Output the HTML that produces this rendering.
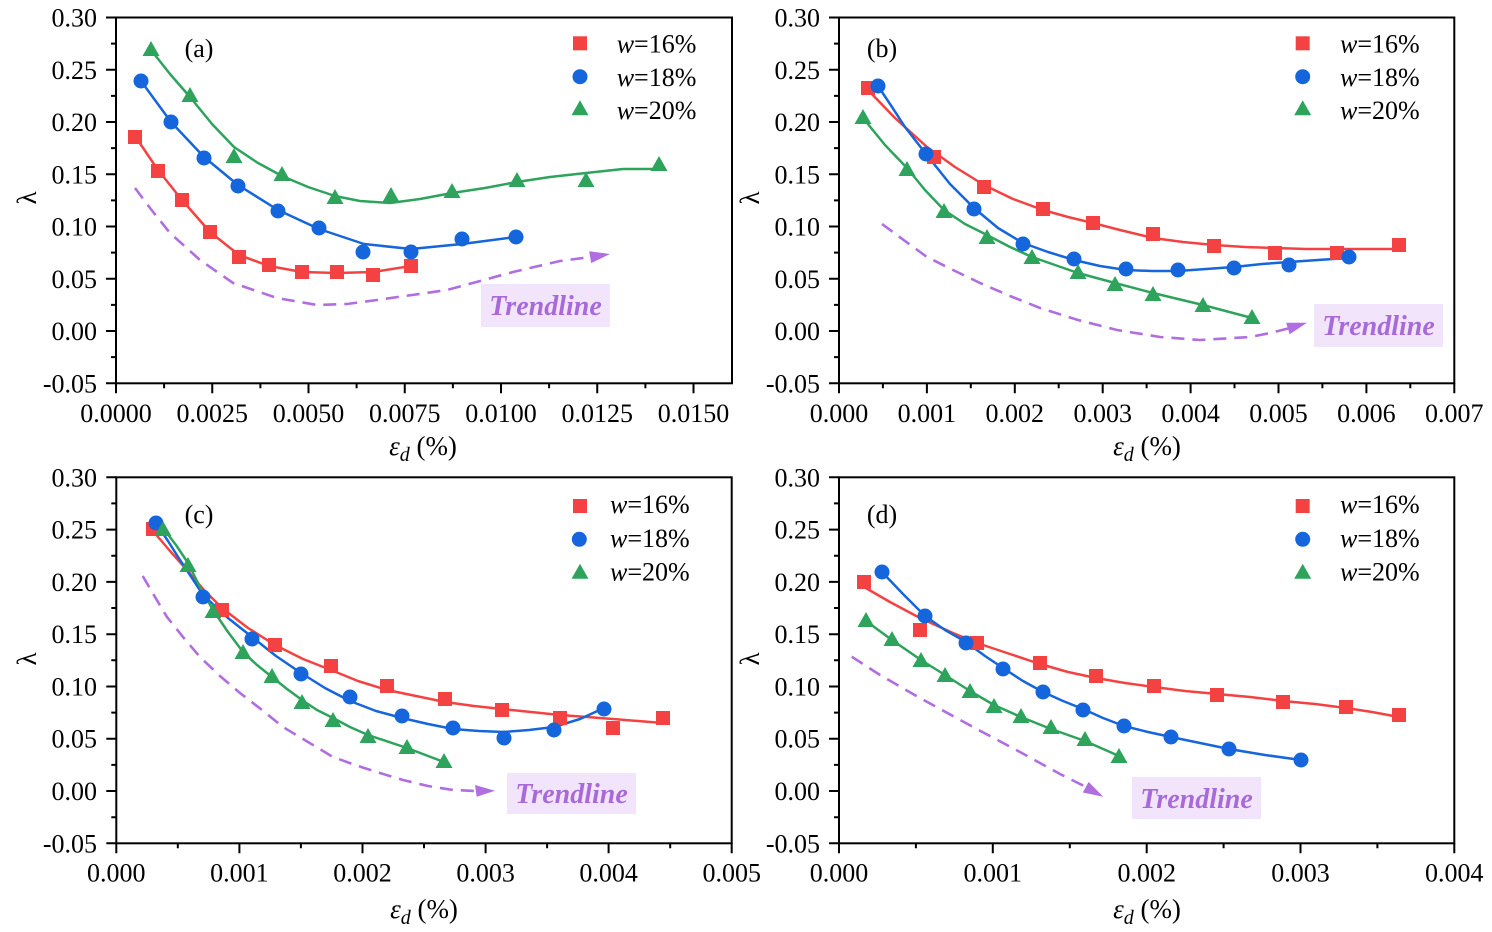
<!DOCTYPE html>
<html><head><meta charset="utf-8"><style>
html,body{margin:0;padding:0;background:#fff;}
svg{display:block;}
text{font-family:"Liberation Serif","Times New Roman",serif;fill:#000;}
</style></head><body>
<svg width="1492" height="932" viewBox="0 0 1492 932" xmlns="http://www.w3.org/2000/svg">
<defs>
<rect id="sq" x="-7" y="-7" width="14" height="14"/>
<circle id="ci" cx="0" cy="0" r="7.5"/>
<polygon id="tr" points="0,-9 8.5,6 -8.5,6"/>
</defs>
<g fill="none" stroke="#000" stroke-width="2">
<rect x="116" y="17.5" width="616" height="365.8"/>
<rect x="839" y="17.5" width="615.3" height="365.8"/>
<rect x="116.3" y="477.3" width="615.4" height="366"/>
<rect x="839" y="477.3" width="615.3" height="366"/>
<!-- y ticks a -->
<path d="M116,17.5h-10M116,69.8h-10M116,122h-10M116,174.3h-10M116,226.5h-10M116,278.8h-10M116,331h-10M116,383.3h-10M116,43.6h-5M116,95.9h-5M116,148.1h-5M116,200.4h-5M116,252.6h-5M116,304.9h-5M116,357.1h-5"/>
<path d="M839,17.5h-10M839,69.8h-10M839,122h-10M839,174.3h-10M839,226.5h-10M839,278.8h-10M839,331h-10M839,383.3h-10M839,43.6h-5M839,95.9h-5M839,148.1h-5M839,200.4h-5M839,252.6h-5M839,304.9h-5M839,357.1h-5"/>
<path d="M116.3,477.3h-10M116.3,529.6h-10M116.3,581.9h-10M116.3,634.2h-10M116.3,686.5h-10M116.3,738.7h-10M116.3,791h-10M116.3,843.3h-10M116.3,503.4h-5M116.3,555.7h-5M116.3,608h-5M116.3,660.3h-5M116.3,712.6h-5M116.3,764.9h-5M116.3,817.2h-5"/>
<path d="M839,477.3h-10M839,529.6h-10M839,581.9h-10M839,634.2h-10M839,686.5h-10M839,738.7h-10M839,791h-10M839,843.3h-10M839,503.4h-5M839,555.7h-5M839,608h-5M839,660.3h-5M839,712.6h-5M839,764.9h-5M839,817.2h-5"/>
<!-- x ticks -->
<path d="M116,383.3v10M212.25,383.3v10M308.5,383.3v10M404.75,383.3v10M501,383.3v10M597.25,383.3v10M693.5,383.3v10M164.1,383.3v5M260.4,383.3v5M356.6,383.3v5M452.9,383.3v5M549.1,383.3v5M645.4,383.3v5"/>
<path d="M839,383.3v10M926.9,383.3v10M1014.8,383.3v10M1102.7,383.3v10M1190.6,383.3v10M1278.5,383.3v10M1366.4,383.3v10M1454.3,383.3v10M882.9,383.3v5M970.8,383.3v5M1058.7,383.3v5M1146.6,383.3v5M1234.5,383.3v5M1322.4,383.3v5M1410.3,383.3v5"/>
<path d="M116.3,843.3v10M239.4,843.3v10M362.5,843.3v10M485.6,843.3v10M608.6,843.3v10M731.7,843.3v10M177.8,843.3v5M300.9,843.3v5M424,843.3v5M547.1,843.3v5M670.2,843.3v5"/>
<path d="M839,843.3v10M992.8,843.3v10M1146.7,843.3v10M1300.5,843.3v10M1454.3,843.3v10M915.9,843.3v5M1069.8,843.3v5M1223.6,843.3v5M1377.4,843.3v5"/>
</g>

<!-- tick labels -->
<g font-size="26" text-anchor="end">
<text x="97" y="26.5">0.30</text><text x="97" y="78.8">0.25</text><text x="97" y="131">0.20</text><text x="97" y="183.3">0.15</text><text x="97" y="235.5">0.10</text><text x="97" y="287.8">0.05</text><text x="97" y="340">0.00</text><text x="97" y="392.3">-0.05</text>
<text x="820" y="26.5">0.30</text><text x="820" y="78.8">0.25</text><text x="820" y="131">0.20</text><text x="820" y="183.3">0.15</text><text x="820" y="235.5">0.10</text><text x="820" y="287.8">0.05</text><text x="820" y="340">0.00</text><text x="820" y="392.3">-0.05</text>
<text x="97" y="486.3">0.30</text><text x="97" y="538.6">0.25</text><text x="97" y="590.9">0.20</text><text x="97" y="643.2">0.15</text><text x="97" y="695.5">0.10</text><text x="97" y="747.7">0.05</text><text x="97" y="800">0.00</text><text x="97" y="852.3">-0.05</text>
<text x="820" y="486.3">0.30</text><text x="820" y="538.6">0.25</text><text x="820" y="590.9">0.20</text><text x="820" y="643.2">0.15</text><text x="820" y="695.5">0.10</text><text x="820" y="747.7">0.05</text><text x="820" y="800">0.00</text><text x="820" y="852.3">-0.05</text>
</g>
<g font-size="26" text-anchor="middle">
<text x="116" y="422">0.0000</text><text x="212.25" y="422">0.0025</text><text x="308.5" y="422">0.0050</text><text x="404.75" y="422">0.0075</text><text x="501" y="422">0.0100</text><text x="597.25" y="422">0.0125</text><text x="693.5" y="422">0.0150</text>
<text x="839" y="422">0.000</text><text x="926.9" y="422">0.001</text><text x="1014.8" y="422">0.002</text><text x="1102.7" y="422">0.003</text><text x="1190.6" y="422">0.004</text><text x="1278.5" y="422">0.005</text><text x="1366.4" y="422">0.006</text><text x="1454.3" y="422">0.007</text>
<text x="116.3" y="881.5">0.000</text><text x="239.4" y="881.5">0.001</text><text x="362.5" y="881.5">0.002</text><text x="485.6" y="881.5">0.003</text><text x="608.6" y="881.5">0.004</text><text x="731.7" y="881.5">0.005</text>
<text x="839" y="881.5">0.000</text><text x="992.8" y="881.5">0.001</text><text x="1146.7" y="881.5">0.002</text><text x="1300.5" y="881.5">0.003</text><text x="1454.3" y="881.5">0.004</text>
</g>

<!-- axis titles -->
<g font-size="27" text-anchor="middle">
<text x="423" y="455"><tspan font-style="italic">ε</tspan><tspan font-style="italic" font-size="20" dy="6">d</tspan><tspan dy="-6"> (%)</tspan></text>
<text x="1147" y="455"><tspan font-style="italic">ε</tspan><tspan font-style="italic" font-size="20" dy="6">d</tspan><tspan dy="-6"> (%)</tspan></text>
<text x="424" y="918"><tspan font-style="italic">ε</tspan><tspan font-style="italic" font-size="20" dy="6">d</tspan><tspan dy="-6"> (%)</tspan></text>
<text x="1147" y="918"><tspan font-style="italic">ε</tspan><tspan font-style="italic" font-size="20" dy="6">d</tspan><tspan dy="-6"> (%)</tspan></text>
<text x="36" y="198" transform="rotate(-90 36 198)">λ</text>
<text x="759" y="198" transform="rotate(-90 759 198)">λ</text>
<text x="36" y="659" transform="rotate(-90 36 659)">λ</text>
<text x="759" y="659" transform="rotate(-90 759 659)">λ</text>
</g>
<g font-size="26" text-anchor="middle">
<text x="199" y="57">(a)</text><text x="882" y="57">(b)</text><text x="199" y="523">(c)</text><text x="882" y="523">(d)</text>
</g>

<!-- legends -->
<g font-size="26">
<use href="#sq" x="580" y="43.3" fill="#f44242"/><use href="#ci" x="580" y="76.7" fill="#1565dc"/><use href="#tr" x="580" y="109.3" fill="#2ea35c"/>
<text x="616.7" y="52.5"><tspan font-style="italic">w</tspan>=16%</text><text x="616.7" y="86"><tspan font-style="italic">w</tspan>=18%</text><text x="616.7" y="119"><tspan font-style="italic">w</tspan>=20%</text>
<use href="#sq" x="1302.7" y="43.3" fill="#f44242"/><use href="#ci" x="1302.7" y="76.7" fill="#1565dc"/><use href="#tr" x="1302.7" y="109.3" fill="#2ea35c"/>
<text x="1340" y="52.5"><tspan font-style="italic">w</tspan>=16%</text><text x="1340" y="86"><tspan font-style="italic">w</tspan>=18%</text><text x="1340" y="119"><tspan font-style="italic">w</tspan>=20%</text>
<use href="#sq" x="580" y="506" fill="#f44242"/><use href="#ci" x="579.3" y="539.3" fill="#1565dc"/><use href="#tr" x="580" y="572.7" fill="#2ea35c"/>
<text x="610" y="513"><tspan font-style="italic">w</tspan>=16%</text><text x="610" y="547"><tspan font-style="italic">w</tspan>=18%</text><text x="610" y="580.5"><tspan font-style="italic">w</tspan>=20%</text>
<use href="#sq" x="1302.7" y="506" fill="#f44242"/><use href="#ci" x="1302.7" y="539.3" fill="#1565dc"/><use href="#tr" x="1302.7" y="572.7" fill="#2ea35c"/>
<text x="1340" y="513"><tspan font-style="italic">w</tspan>=16%</text><text x="1340" y="547"><tspan font-style="italic">w</tspan>=18%</text><text x="1340" y="580.5"><tspan font-style="italic">w</tspan>=20%</text>
</g>

<!-- trendlines -->
<g fill="none" stroke="#b06ee0" stroke-width="2.6" stroke-dasharray="13 8">
<path d="M135,188 L150,208 L170,233 L200,260 L233,283 L277,298 L317,305 L347,304 L377,300 L447,290 L513,272 L560,261 L591,257"/>
<path d="M882,224 L905,241 L927,257 L953,270 L980,283 L1010,296 L1040,308 L1078,320 L1117,330 L1160,337 L1200,340 L1250,337 L1270,333 L1288,328.5"/>
<path d="M142.7,576 L155,597 L167,617 L183,637 L200,657 L220,676 L240,693 L262,710 L283,727 L308,742 L333,757 L358,766 L380,773 L403,780 L428,786 L453,790 L475,791"/>
<path d="M851.7,656.7 L880,675 L920,698 L973,727 L1020,752 L1060,774 L1086,787"/>
</g>
<g fill="#b06ee0">
<polygon points="610,254 591.2,263.1 589.2,251.3"/>
<polygon points="1307,322.7 1289.6,334.2 1286.2,322.8"/>
<polygon points="495,790.7 475,785 476.7,796.7"/>
<polygon points="1103.3,796.7 1082.8,792.5 1088.6,781.9"/>
</g>
<g fill="#f2e5fb">
<rect x="481" y="284" width="129" height="43"/>
<rect x="1314" y="304" width="129" height="43"/>
<rect x="507" y="773" width="129" height="41"/>
<rect x="1132" y="777" width="129" height="42"/>
</g>
<g font-size="28" font-weight="bold" font-style="italic" text-anchor="middle" style="fill:#a86ad8">
<text x="545.5" y="315" style="fill:#a86ad8">Trendline</text>
<text x="1378.5" y="335" style="fill:#a86ad8">Trendline</text>
<text x="571.5" y="803" style="fill:#a86ad8">Trendline</text>
<text x="1196.5" y="808" style="fill:#a86ad8">Trendline</text>
</g>

<!-- Panel a -->
<g fill="none" stroke-width="2.5" stroke-linejoin="round">
<path stroke="#f44242" d="M135,136 L158,170 L182,200 L210,232 L239,255 L269,266 L302,272 L337,273 L373,272 L411,266"/>
<path stroke="#1565dc" d="M141,81 L171,122 L204,157 L238,185 L278,210 L319,229 L364,244 L411,249 L462,244 L516,237"/>
<path stroke="#2ea35c" d="M151,50 L170,74 L190,97 L212,124 L234,147 L258,163 L282,176 L308,187 L335,196 L360,201 L390,203 L420,199 L452,193 L485,188 L517,182 L550,177 L586,173 L623,169 L659,169"/>
</g>
<g fill="#f44242"><use href="#sq" x="135" y="137"/><use href="#sq" x="158" y="171"/><use href="#sq" x="182" y="200"/><use href="#sq" x="210" y="232"/><use href="#sq" x="239" y="257"/><use href="#sq" x="269" y="265"/><use href="#sq" x="302" y="272"/><use href="#sq" x="337" y="272"/><use href="#sq" x="373" y="275"/><use href="#sq" x="411" y="266"/></g>
<g fill="#1565dc"><use href="#ci" x="141" y="81"/><use href="#ci" x="171" y="122"/><use href="#ci" x="204" y="158"/><use href="#ci" x="238" y="186"/><use href="#ci" x="278" y="211"/><use href="#ci" x="319" y="228"/><use href="#ci" x="363" y="252"/><use href="#ci" x="411" y="252"/><use href="#ci" x="462" y="239"/><use href="#ci" x="516" y="237"/></g>
<g fill="#2ea35c"><use href="#tr" x="151" y="50"/><use href="#tr" x="190" y="96"/><use href="#tr" x="234" y="157"/><use href="#tr" x="282" y="175"/><use href="#tr" x="335" y="198"/><use href="#tr" x="391" y="196"/><use href="#tr" x="452" y="192"/><use href="#tr" x="517" y="181"/><use href="#tr" x="586" y="181"/><use href="#tr" x="659" y="165"/></g>

<!-- Panel b -->
<g fill="none" stroke-width="2.5" stroke-linejoin="round">
<path stroke="#f44242" d="M867,89 L895,118 L927,147 L955,167 L984,185 L1013,199 L1043,210 L1068,217 L1093,223 L1120,230 L1153,238 L1183,242 L1214,245 L1245,247 L1275,248 L1306,249 L1337,249 L1368,249 L1399,249"/>
<path stroke="#1565dc" d="M878,86 L892,107 L905,127 L926,154 L950,184 L974,208 L998,228 L1023,243 L1048,252 L1074,260 L1100,266 L1126,270 L1152,271 L1178,271 L1206,269 L1234,267 L1262,264 L1289,262 L1318,260 L1348,258"/>
<path stroke="#2ea35c" d="M863,118 L885,145 L907,168 L925,190 L944,210 L965,224 L987,235 L1010,247 L1032,257 L1055,265 L1078,273 L1115,283 L1153,293 L1203,305 L1252,318"/>
</g>
<g fill="#f44242"><use href="#sq" x="868" y="88"/><use href="#sq" x="934" y="157"/><use href="#sq" x="984" y="187"/><use href="#sq" x="1043" y="209"/><use href="#sq" x="1093" y="223"/><use href="#sq" x="1153" y="234"/><use href="#sq" x="1214" y="246"/><use href="#sq" x="1275" y="253"/><use href="#sq" x="1337" y="253"/><use href="#sq" x="1399" y="245"/></g>
<g fill="#1565dc"><use href="#ci" x="878" y="86"/><use href="#ci" x="926" y="154"/><use href="#ci" x="974" y="209"/><use href="#ci" x="1023" y="244"/><use href="#ci" x="1074" y="259"/><use href="#ci" x="1126" y="269"/><use href="#ci" x="1178" y="270"/><use href="#ci" x="1234" y="268"/><use href="#ci" x="1289" y="265"/><use href="#ci" x="1349" y="257"/></g>
<g fill="#2ea35c"><use href="#tr" x="863" y="118"/><use href="#tr" x="907" y="170"/><use href="#tr" x="944" y="212"/><use href="#tr" x="987" y="238"/><use href="#tr" x="1032" y="258"/><use href="#tr" x="1078" y="273"/><use href="#tr" x="1115" y="285"/><use href="#tr" x="1153" y="295"/><use href="#tr" x="1203" y="306"/><use href="#tr" x="1252" y="318"/></g>

<!-- Panel c -->
<g fill="none" stroke-width="2.5" stroke-linejoin="round">
<path stroke="#f44242" d="M153,531 L170,551 L187,570 L204,590 L222,608 L248,628 L275,645 L303,659 L331,670 L358,681 L387,690 L416,696 L445,702 L474,706 L502,709 L531,712 L560,715 L587,717 L613,719 L638,721 L663,723"/>
<path stroke="#1565dc" d="M156,523 L168,541 L180,560 L192,578 L203,595 L228,618 L252,637 L276,656 L301,673 L325,688 L350,701 L376,711 L402,718 L428,724 L453,729 L479,731 L504,732 L529,730 L554,727 L580,719 L604,708"/>
<path stroke="#2ea35c" d="M163,528 L176,545 L188,563 L200,587 L213,610 L228,632 L243,652 L257,665 L272,677 L287,689 L302,700 L317,710 L333,718 L350,727 L368,735 L407,748 L444,762"/>
</g>
<g fill="#f44242"><use href="#sq" x="153" y="529"/><use href="#sq" x="222" y="610"/><use href="#sq" x="275" y="645"/><use href="#sq" x="331" y="666"/><use href="#sq" x="387" y="686"/><use href="#sq" x="445" y="699"/><use href="#sq" x="502" y="710"/><use href="#sq" x="560" y="718"/><use href="#sq" x="613" y="728"/><use href="#sq" x="663" y="718"/></g>
<g fill="#1565dc"><use href="#ci" x="156" y="523"/><use href="#ci" x="203" y="597"/><use href="#ci" x="252" y="639"/><use href="#ci" x="301" y="674"/><use href="#ci" x="350" y="697"/><use href="#ci" x="402" y="716"/><use href="#ci" x="453" y="728"/><use href="#ci" x="504" y="738"/><use href="#ci" x="554" y="730"/><use href="#ci" x="604" y="709"/></g>
<g fill="#2ea35c"><use href="#tr" x="163" y="530"/><use href="#tr" x="188" y="566"/><use href="#tr" x="213" y="612"/><use href="#tr" x="243" y="653"/><use href="#tr" x="272" y="677"/><use href="#tr" x="302" y="703"/><use href="#tr" x="333" y="721"/><use href="#tr" x="368" y="737"/><use href="#tr" x="407" y="748"/><use href="#tr" x="444" y="762"/></g>

<!-- Panel d -->
<g fill="none" stroke-width="2.5" stroke-linejoin="round">
<path stroke="#f44242" d="M864,587 L890,602 L920,618 L953,633 L977,643 L1007,653 L1040,664 L1068,672 L1096,678 L1125,683 L1154,687 L1185,691 L1217,694 L1250,697 L1283,701 L1315,704 L1346,708 L1372,712 L1399,717"/>
<path stroke="#1565dc" d="M882,572 L903,594 L925,616 L945,630 L966,642 L985,656 L1003,668 L1023,681 L1043,692 L1063,701 L1083,709 L1103,718 L1124,726 L1148,732 L1171,737 L1200,743 L1229,749 L1265,755 L1301,760"/>
<path stroke="#2ea35c" d="M866,621 L892,640 L921,660 L945,675 L970,691 L994,705 L1021,717 L1051,729 L1085,741 L1119,756"/>
</g>
<g fill="#f44242"><use href="#sq" x="864" y="582"/><use href="#sq" x="920" y="630"/><use href="#sq" x="977" y="643"/><use href="#sq" x="1040" y="663"/><use href="#sq" x="1096" y="676"/><use href="#sq" x="1154" y="686"/><use href="#sq" x="1217" y="695"/><use href="#sq" x="1283" y="702"/><use href="#sq" x="1346" y="707"/><use href="#sq" x="1399" y="715"/></g>
<g fill="#1565dc"><use href="#ci" x="882" y="572"/><use href="#ci" x="925" y="616"/><use href="#ci" x="966" y="643"/><use href="#ci" x="1003" y="669"/><use href="#ci" x="1043" y="692"/><use href="#ci" x="1083" y="710"/><use href="#ci" x="1124" y="726"/><use href="#ci" x="1171" y="737"/><use href="#ci" x="1229" y="749"/><use href="#ci" x="1301" y="760"/></g>
<g fill="#2ea35c"><use href="#tr" x="866" y="621"/><use href="#tr" x="892" y="640"/><use href="#tr" x="921" y="661"/><use href="#tr" x="945" y="676"/><use href="#tr" x="970" y="692"/><use href="#tr" x="994" y="707"/><use href="#tr" x="1021" y="717"/><use href="#tr" x="1051" y="728"/><use href="#tr" x="1085" y="740"/><use href="#tr" x="1119" y="757"/></g>
</svg>
</body></html>
